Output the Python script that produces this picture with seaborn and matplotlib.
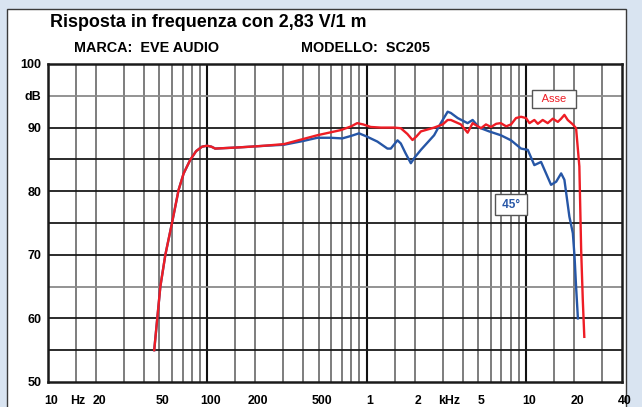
import numpy as np
import pandas as pd
import seaborn as sns
import matplotlib.pyplot as plt
from matplotlib.patches import Rectangle
from matplotlib.transforms import ScaledTranslation

plt.rcParams['font.family'] = ['Liberation Sans', 'DejaVu Sans']

# Asse (on-axis) response
freq_asse = [46.4, 48.5, 50.7, 54.5, 60, 66, 71, 78, 85, 92.6, 99.5, 106, 112, 161, 215, 302, 490, 686,
             800, 871, 950, 1059, 1225, 1486, 1637, 1800, 1938, 2050, 2188, 2649, 3000, 3221, 3373,
             3899, 4296, 4620, 5213, 5600, 6026, 6500, 6940, 7500, 8050, 8650, 9300, 10000, 10500,
             11270, 11850, 12720, 13670, 14720, 15830, 16600, 17400, 18260, 19660, 20600, 21600,
             22170, 22700, 23200]
db_asse = [55.0, 60.0, 65.0, 70.0, 75.0, 80.2, 82.8, 84.9, 86.3, 87.0, 87.15, 87.0, 86.7, 86.9, 87.1,
           87.4, 88.8, 89.6, 90.2, 90.7, 90.5, 90.1, 90.0, 90.0, 89.9, 89.0, 88.05, 88.6, 89.4, 90.0,
           90.5, 91.2, 91.2, 90.5, 89.2, 90.7, 89.9, 90.5, 90.1, 90.6, 90.7, 90.2, 90.5, 91.5, 91.7,
           91.5, 90.7, 91.2, 90.6, 91.2, 90.7, 91.4, 90.9, 91.4, 92.0, 91.2, 90.5, 89.9, 83.9,
           70.75, 62.9, 57.1]

# 45 degree response
freq_45 = [46.4, 48.5, 50.7, 54.5, 60, 66, 71, 78, 85, 92.6, 99.5, 106, 112, 161, 215, 302, 400, 490,
           594, 703, 800, 895, 1000, 1167, 1349, 1416, 1560, 1637, 1750, 1892, 2000, 2188, 2649,
           2917, 3221, 3373, 3724, 4296, 4620, 5081, 5871, 6940, 8050, 9300, 10250, 11270, 12420,
           14350, 15460, 16600, 17400, 18700, 19660, 20150, 20600, 21150]
db_45 = [55.0, 60.0, 65.0, 70.0, 75.0, 80.2, 82.8, 84.9, 86.3, 87.0, 87.15, 87.0, 86.7, 86.9, 87.1,
         87.3, 87.9, 88.4, 88.4, 88.3, 88.7, 89.1, 88.6, 87.8, 86.7, 86.7, 88.0, 87.5, 86.0, 84.4,
         85.3, 86.5, 88.8, 90.7, 92.5, 92.3, 91.5, 90.7, 91.2, 90.0, 89.4, 88.8, 88.0, 86.7, 86.5,
         84.1, 84.6, 81.0, 81.5, 82.8, 81.8, 76.0, 73.4, 69.7, 65.0, 60.0]

x_ticks = [10, 14.8, 20, 50, 100, 200, 500, 1000, 2000, 3140, 5000, 10000, 20000, 40000]
x_labels = ['10', 'Hz', '20', '50', '100', '200', '500', '1', '2', 'kHz', '5', '10', '20', '40']
y_ticks = [50, 60, 70, 80, 90, 95, 100]
y_labels = ['50', '60', '70', '80', '90', 'dB', '100']

red = '#ee1d25'
blue = '#2656a6'

df = pd.concat([
    pd.DataFrame({'freq': freq_45, 'db': db_45, 'serie': '45°'}),
    pd.DataFrame({'freq': freq_asse, 'db': db_asse, 'serie': 'Asse'}),
])

fig = plt.figure(figsize=(6.42, 4.07), dpi=100, facecolor='#d9e4f1')
fig.add_artist(Rectangle((7 / 642, -0.1), 619 / 642, 1.1 - 9 / 407, transform=fig.transFigure,
                         facecolor='white', edgecolor='#3a3a3a', lw=1.0, zorder=-1))

ax = fig.add_axes([48 / 642, 1 - 382 / 407, 574 / 642, 318 / 407])
ax.set_xscale('log')
ax.set_xlim(10, 40000)
ax.set_ylim(50, 100)

# grid
for dec in [10, 100, 1000, 10000]:
    for m in [1, 1.5, 2, 3, 4, 5, 6, 7, 8, 9]:
        f = dec * m
        if f >= 40000:
            continue
        if m == 1:
            ax.axvline(f, color='#111111', lw=1.5, zorder=1)
        else:
            ax.axvline(f, color='#5a5a5a', lw=1.1, zorder=1)
for v in range(55, 100, 5):
    c = '#8a8a8a' if v in (65, 95) else '#1a1a1a'
    ax.axhline(v, color=c, lw=1.3, zorder=1)

sns.lineplot(data=df, x='freq', y='db', hue='serie', hue_order=['45°', 'Asse'],
             palette={'45°': blue, 'Asse': red}, sort=False, estimator=None,
             legend=False, linewidth=1.7, ax=ax, zorder=3)

ax.set_xticks(x_ticks, labels=x_labels)
ax.set_xticks([], minor=True)
ax.set_yticks(y_ticks, labels=y_labels)
ax.tick_params(axis='both', length=0, labelsize=9)
ax.tick_params(axis='x', pad=9.5, labelsize=8.8)
ax.tick_params(axis='y', pad=4.5)
for lab in ax.get_xticklabels() + ax.get_yticklabels():
    lab.set_fontweight('bold')
for lab in ax.get_xticklabels():
    lab.set_transform(lab.get_transform() + ScaledTranslation(3 / 100, 0, fig.dpi_scale_trans))
ax.set_xlabel('')
ax.set_ylabel('')
for s in ax.spines.values():
    s.set_linewidth(1.8)
    s.set_color('#1a1a1a')
    s.set_zorder(4)

ax.text(15000, 94.5, '  Asse  ', color=red, fontsize=8, ha='center', va='center', zorder=5,
        bbox=dict(boxstyle='square,pad=0.35', fc='white', ec='#555555', lw=1.0))
ax.text(8050, 77.9, ' 45° ', color=blue, fontsize=8.5, fontweight='bold', ha='center', va='center',
        zorder=5, bbox=dict(boxstyle='square,pad=0.35', fc='white', ec='#555555', lw=1.0))

fig.text(50 / 642, 1 - 26.7 / 407, 'Risposta in frequenza con 2,83 V/1 m', fontsize=12.9,
         fontweight='bold', ha='left', va='baseline')
fig.text(74 / 642, 1 - 51.7 / 407, 'MARCA:  EVE AUDIO', fontsize=10.4, fontweight='bold',
         ha='left', va='baseline')
fig.text(301 / 642, 1 - 51.7 / 407, 'MODELLO:  SC205', fontsize=10.4, fontweight='bold',
         ha='left', va='baseline')

fig.savefig('out.png', dpi=100, facecolor=fig.get_facecolor())
